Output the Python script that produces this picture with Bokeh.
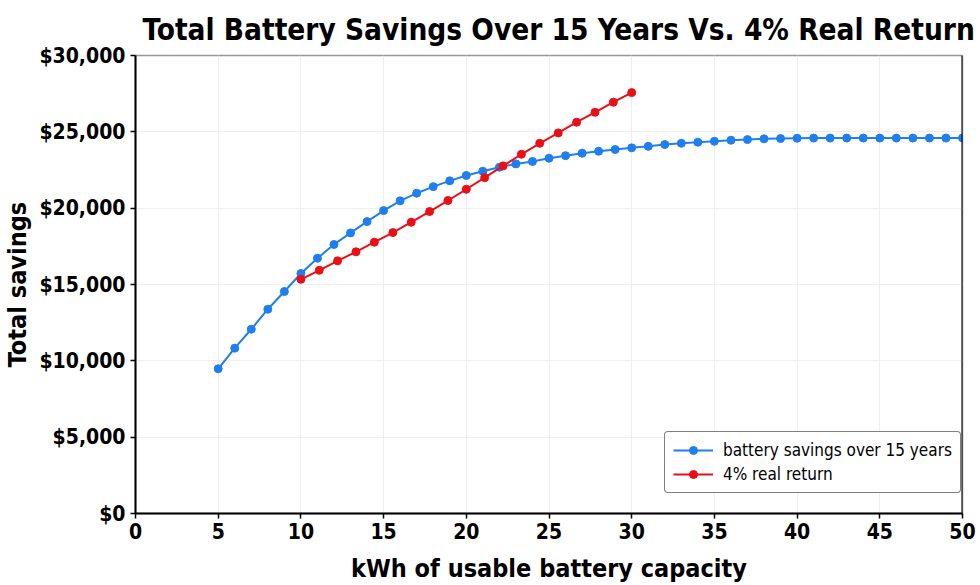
from bokeh.plotting import figure
from bokeh.models import (ColumnDataSource, NumeralTickFormatter, FixedTicker,
                          Range1d, Legend, LegendItem, Span)
from bokeh.embed import file_html
from bokeh.resources import INLINE

# Battery capacity (kWh) and cumulative savings over 15 years
battery_kwh = [5, 6, 7, 8, 9, 10, 11, 12, 13, 14, 15, 16, 17, 18, 19, 20,
               21, 22, 23, 24, 25, 26, 27, 28, 29, 30, 31, 32, 33, 34, 35,
               36, 37, 38, 39, 40, 41, 42, 43, 44, 45, 46, 47, 48, 49, 50]
battery_savings = [9480, 10830, 12070, 13380, 14540, 15720, 16720, 17620,
                   18380, 19120, 19840, 20480, 20980, 21410, 21790, 22140,
                   22420, 22680, 22900, 23060, 23270, 23440, 23600, 23730,
                   23840, 23950, 24050, 24170, 24250, 24320, 24380, 24450,
                   24490, 24540, 24560, 24580, 24590, 24590, 24590, 24590,
                   24590, 24590, 24590, 24590, 24590, 24600]

# Same money invested at a 4% real return instead
return_kwh = [10.0, 11.11, 12.22, 13.33, 14.44, 15.56, 16.67, 17.78, 18.89,
              20.0, 21.11, 22.22, 23.33, 24.44, 25.56, 26.67, 27.78, 28.89,
              30.0]
return_value = [15340, 15930, 16550, 17140, 17770, 18400, 19080, 19780,
                20500, 21240, 22000, 22770, 23530, 24250, 24930, 25630,
                26280, 26940, 27570]

x_ticks = [0, 5, 10, 15, 20, 25, 30, 35, 40, 45, 50]
y_ticks = [0, 5000, 10000, 15000, 20000, 25000, 30000]

BLUE = "#1f7ff0"
RED = "#ea0f17"
COND = "DejaVu Sans Condensed"

p = figure(width=980, height=585, output_backend="svg", toolbar_location=None,
           x_range=Range1d(0, 50), y_range=Range1d(0, 30000),
           min_border_left=133, min_border_right=18,
           min_border_top=55, min_border_bottom=72,
           title="Total Battery Savings Over 15 Years Vs. 4% Real Return")

p.title.text_font = COND
p.title.text_font_style = "bold"
p.title.text_font_size = "29.5px"
p.title.text_color = "black"
p.title.align = "left"
p.title.offset = 7
p.title.standoff = 18

# Frame: grey on top, black elsewhere
p.outline_line_color = "#999999"
p.outline_line_width = 1.5
p.background_fill_color = "white"
p.border_fill_color = "white"

for ax in (p.xaxis[0], p.yaxis[0]):
    ax.axis_line_color = "black"
    ax.axis_line_width = 2
    ax.major_tick_line_color = "black"
    ax.major_tick_line_width = 1.5
    ax.major_tick_out = 5
    ax.major_tick_in = 0
    ax.minor_tick_line_color = None
    ax.major_label_text_font = COND
    ax.major_label_text_font_style = "bold"
    ax.major_label_text_font_size = "21px"
    ax.major_label_text_color = "black"
    ax.axis_label_text_font = COND
    ax.axis_label_text_font_style = "bold"
    ax.axis_label_text_font_size = "25px"
    ax.axis_label_text_color = "black"

p.xaxis.ticker = FixedTicker(ticks=x_ticks)
p.yaxis.ticker = FixedTicker(ticks=y_ticks)
p.yaxis.formatter = NumeralTickFormatter(format="$0,0")
p.xaxis.axis_label = "kWh of usable battery capacity"
p.yaxis.axis_label = "Total savings"
p.xaxis.major_label_standoff = 4
p.yaxis.major_label_standoff = 5
p.xaxis.axis_label_standoff = 12
p.yaxis.axis_label_standoff = 4

p.xgrid.grid_line_color = "#eeeeee"
p.ygrid.grid_line_color = "#eeeeee"
p.xgrid.ticker = FixedTicker(ticks=x_ticks)
p.ygrid.ticker = FixedTicker(ticks=y_ticks)

# Right-hand black edge of the frame
p.add_layout(Span(location=50, dimension="height", line_color="black",
                  line_width=2))

bsrc = ColumnDataSource(dict(x=battery_kwh, y=battery_savings))
rsrc = ColumnDataSource(dict(x=return_kwh, y=return_value))

bl = p.line("x", "y", source=bsrc, line_color=BLUE, line_width=2)
bs = p.scatter("x", "y", source=bsrc, size=8, fill_color=BLUE,
               line_color=BLUE)
rl = p.line("x", "y", source=rsrc, line_color=RED, line_width=2)
rs = p.scatter("x", "y", source=rsrc, size=8, fill_color=RED,
               line_color=RED)

legend = Legend(items=[
    LegendItem(label="battery savings over 15 years", renderers=[bl, bs]),
    LegendItem(label="4% real return", renderers=[rl, rs]),
], location=(529, 20))
legend.label_text_font = COND
legend.label_text_font_size = "17px"
legend.label_text_color = "black"
legend.border_line_color = "black"
legend.border_line_width = 1
legend.border_radius = 4
legend.glyph_width = 40
legend.glyph_height = 20
legend.label_standoff = 10
legend.padding = 8
legend.spacing = 4
legend.margin = 0
legend.background_fill_alpha = 1
p.add_layout(legend)

open("out.html", "w").write(file_html(p, INLINE))
